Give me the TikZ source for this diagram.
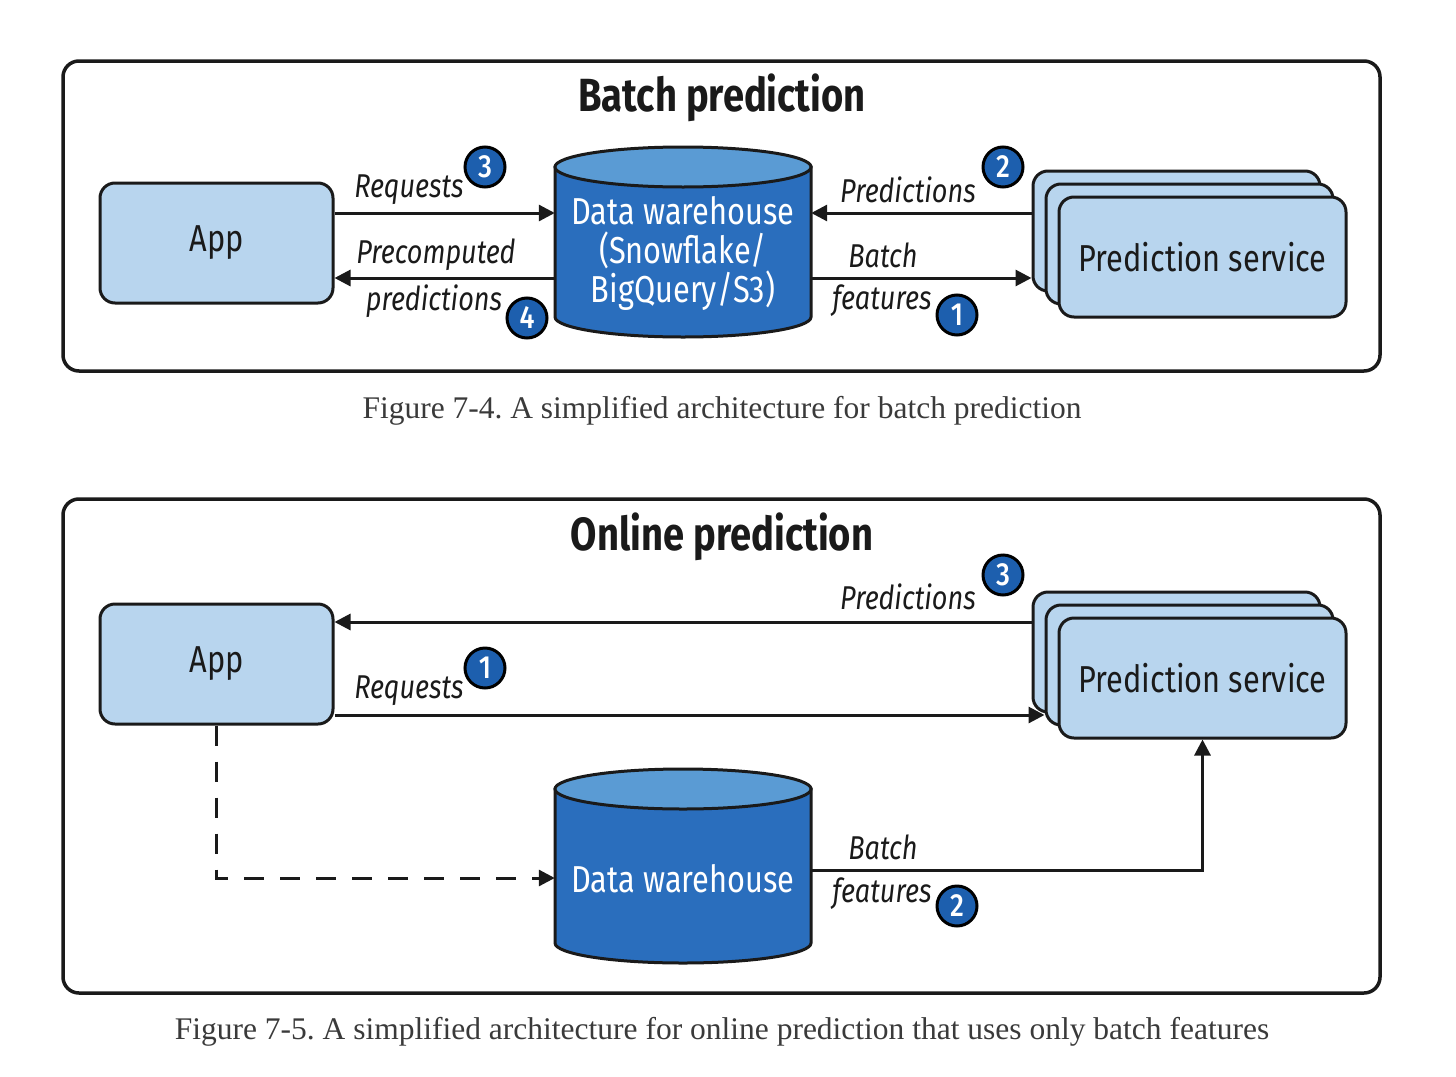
\documentclass[tikz,border=0pt]{standalone}
\usepackage{fontspec}
\setmainfont{Liberation Serif}
\newfontfamily\condfont[FakeStretch=0.82]{Fira Sans}
\newfontfamily\badgefont[FakeStretch=0.85]{Fira Sans Medium}
\usetikzlibrary{arrows.meta}
\definecolor{lightbox}{HTML}{B8D5EE}
\definecolor{dwbody}{HTML}{2A6EBD}
\definecolor{dwtop}{HTML}{5A9BD4}
\definecolor{badgec}{HTML}{1D5FAE}
\definecolor{inkc}{HTML}{1A1A1A}
\definecolor{capc}{HTML}{3A3A3A}
\newcommand\mytitlefont{\condfont\bfseries\fontsize{46.5}{50}\selectfont}
\newcommand\myboxfont{\condfont\fontsize{37.5}{39}\selectfont}
\newcommand\mylblfont{\condfont\itshape\fontsize{33}{47}\selectfont}
\newcommand\mycapfont{\frenchspacing\fontsize{31.5}{34}\selectfont}
\tikzset{
  frame/.style={draw=inkc,line width=3.5pt,rounded corners=16pt},
  sbox/.style={draw=inkc,fill=lightbox,line width=3pt,rounded corners=15pt,
    minimum width=233pt,minimum height=120pt,inner sep=0pt,font=\myboxfont,text=inkc},
  psbox/.style={sbox,minimum width=287pt},
  arr/.style={draw=inkc,line width=3pt,-{Triangle[length=16pt,width=16pt]}},
  darr/.style={arr,dash pattern=on 20pt off 16pt},
  lbl/.style={font=\mylblfont,text=inkc,inner sep=0pt,align=center},
  badge/.style={circle,draw=black,fill=badgec,line width=3pt,minimum size=40pt,inner sep=0pt,
    text=white,font=\badgefont\fontsize{32}{32}\selectfont},
  dwshape/.style={draw=inkc,line width=3pt},
  captext/.style={font=\mycapfont,text=capc,inner sep=0pt},
  ttl/.style={font=\mytitlefont,text=inkc,inner sep=0pt},
  dwtext/.style={text=white,font=\myboxfont,align=center,inner sep=0pt,
    minimum width=256pt,minimum height=150pt},
}
\begin{document}
\begin{tikzpicture}[x=1pt,y=-1pt]
\useasboundingbox (0,0) rectangle (1456,1076);
% ================= Batch prediction =================
\draw[frame] (63,61) rectangle (1380,371);
\node[ttl] (t1) at (722,98) {Batch prediction};
\node[sbox] (app1) at (216.5,243) {App};
% cylinder
\filldraw[dwshape,fill=dwbody] (555,167) -- (555,317) arc[start angle=180,end angle=0,x radius=128,y radius=20] -- (811,167) -- cycle;
\filldraw[dwshape,fill=dwtop] (683,167) ellipse [x radius=128,y radius=20];
\node[dwtext] (dw1) at (683,253) {Data warehouse\\(Snowflake/\\BigQuery/S3)};
% prediction service stack
\node[psbox] (ps1c) at (1176.5,231) {};
\node[psbox] (ps1b) at (1189.5,244) {};
\node[psbox] (ps1) at (1202.5,257) {Prediction service};
% connectors
\coordinate (r1) at (0,213);
\coordinate (r2) at (0,278);
\draw[arr] (app1.east |- r1) -- (dw1.west |- r1);
\draw[arr] (dw1.west |- r2) -- (app1.east |- r2);
\draw[arr] (ps1c.west |- r1) -- (dw1.east |- r1);
\draw[arr] (dw1.east |- r2) -- (ps1c.west |- r2);
% labels
\node[lbl] (l1) at (409,190) {Requests};
\node[badge] (b13) at (485,167) {3};
\node[lbl] (l2) at (436,255) {Precomputed};
\node[lbl] (l3) at (434,301) {predictions};
\node[badge] (b14) at (527,318) {4};
\node[lbl] (l4) at (908,190) {Predictions};
\node[badge] (b12) at (1003,167) {2};
\node[lbl] (l5) at (883,255) {Batch};
\node[lbl] (l6) at (882,301) {features};
\node[badge] (b11) at (957,315) {1};
\node[captext] (c1) at (722,411) {Figure 7-4. A simplified architecture for batch prediction};
% ================= Online prediction =================
\draw[frame] (63,499) rectangle (1380,993);
\node[ttl] (t2) at (722,537) {Online prediction};
\node[sbox] (app2) at (216.5,664) {App};
\node[psbox] (ps2c) at (1176.5,652) {};
\node[psbox] (ps2b) at (1189.5,665) {};
\node[psbox] (ps2) at (1202.5,678) {Prediction service};
% cylinder
\filldraw[dwshape,fill=dwbody] (555,789) -- (555,943) arc[start angle=180,end angle=0,x radius=128,y radius=20] -- (811,789) -- cycle;
\filldraw[dwshape,fill=dwtop] (683,789) ellipse [x radius=128,y radius=20];
\node[dwtext] (dw2) at (683,879) {Data warehouse};
% connectors
\coordinate (r3) at (0,622);
\coordinate (r4) at (0,715);
\coordinate (r5) at (0,878);
\coordinate (r6) at (0,870);
\draw[arr] (ps2c.west |- r3) -- (app2.east |- r3);
\draw[arr] (app2.east |- r4) -- (ps2b.west |- r4);
\draw[darr] (app2.south) |- (dw2.west |- r5);
\draw[arr] (dw2.east |- r6) -| (ps2.south);
% labels
\node[lbl] (l7) at (908,597) {Predictions};
\node[badge] (b23) at (1003,575) {3};
\node[lbl] (l8) at (409,691) {Requests};
\node[badge] (b21) at (485,668) {1};
\node[lbl] (l9) at (883,847) {Batch};
\node[lbl] (l10) at (882,894) {features};
\node[badge] (b22) at (957,906) {2};
\node[captext] (c2) at (722,1032) {Figure 7-5. A simplified architecture for online prediction that uses only batch features};
\end{tikzpicture}
\end{document}
